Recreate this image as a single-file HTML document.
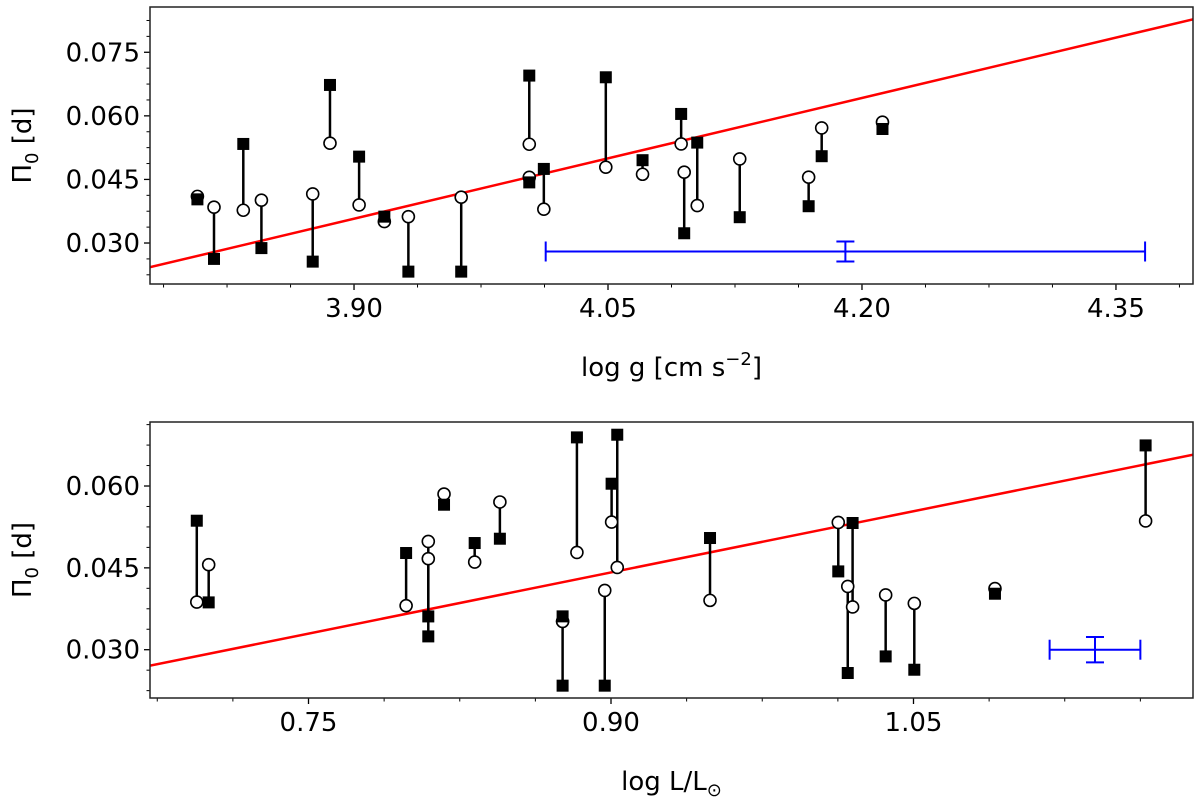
<!DOCTYPE html>
<html><head><meta charset="utf-8"><style>
html,body{margin:0;padding:0;background:#fff;}
svg{display:block;font-family:"DejaVu Sans","Liberation Sans",sans-serif;}
</style></head><body>
<svg id="chart" width="1200" height="802" viewBox="0 0 1200 802"></svg>
<script>
// ---------- top panel data (log g) ----------
const topX      = [3.8075,3.8173,3.8346,3.8453,3.8756,3.8858,3.9030,3.9179,3.9321,3.9633,4.0035,4.0035,4.0121,4.0487,4.0704,4.0932,4.0950,4.1027,4.1278,4.1685,4.1762,4.2121];
const topFilled = [0.0403,0.02625,0.05337,0.0288,0.02561,0.06729,0.05038,0.03622,0.02325,0.02325,0.0695,0.0443,0.04748,0.0691,0.04954,0.06045,0.0323,0.05369,0.03609,0.03868,0.05048,0.0569];
const topOpen   = [0.0410,0.03844,0.03773,0.0401,0.04158,0.05354,0.03899,0.03505,0.03622,0.0408,0.0533,0.0455,0.03797,0.0479,0.04622,0.05338,0.0467,0.03884,0.04984,0.04552,0.05715,0.0585];
const topFit    = [0.02429,0.08278]; // y at x-domain ends
const topErr    = {x:4.1902,y:0.0280,dx:0.177,dy:0.00236};
const topXTicks = [3.90,4.05,4.20,4.35];
const topYTicks = [0.030,0.045,0.060,0.075];
// ---------- bottom panel data (log L) ----------
const botX      = [0.6946,0.7005,0.7984,0.8094,0.8094,0.8172,0.8324,0.8449,0.8760,0.8760,0.8831,0.8969,0.9003,0.9031,0.9491,1.0127,1.0174,1.0198,1.0362,1.0504,1.0904,1.1651];
const botFilled = [0.05364,0.03867,0.04772,0.03244,0.0361,0.05657,0.04955,0.05034,0.03611,0.02341,0.06891,0.02341,0.06042,0.0694,0.05047,0.04435,0.02573,0.05322,0.02877,0.02633,0.04026,0.06744];
const botOpen   = [0.03874,0.04558,0.03807,0.04985,0.04668,0.05853,0.04607,0.05707,0.03519,0.03519,0.04783,0.04087,0.0534,0.04508,0.03904,0.05333,0.0416,0.03783,0.04003,0.03849,0.0412,0.05359];
const botFit    = [0.02707,0.06574];
const botErr    = {x:1.1400,y:0.0300,dx:0.0225,dy:0.00233};
const botXTicks = [0.75,0.90,1.05];
const botYTicks = [0.030,0.045,0.060];

const NS="http://www.w3.org/2000/svg";
const svg=document.getElementById('chart');
function mk(tag,attrs,parent){const e=document.createElementNS(NS,tag);for(const k in attrs)e.setAttribute(k,attrs[k]);(parent||svg).appendChild(e);return e;}

function panel(cfg){
  const {L,R,T,B,x0,x1,y0,y1,xs,fs,os,fit,err,xt,yt,name,xlab}=cfg;
  const X=v=>L+(v-x0)/(x1-x0)*(R-L);
  const Y=v=>B-(v-y0)/(y1-y0)*(B-T);
  const g=mk('g',{});
  
  
  const mx=0.0375, my=0.00375;
  for(let v=Math.ceil((x0-xt[0])/mx)*mx+xt[0]; v<=x1; v+=mx){
    const px=X(v); if(px<L||px>R) continue;
    const major=xt.some(t=>Math.abs(t-v)<1e-6);
    const t=mk('line',{x1:px,x2:px,y1:B,y2:B+(major?6:3.5),stroke:'#000','stroke-width':major?1.3:1},g);
    
    
  }
  for(let v=Math.ceil((y0-yt[0])/my)*my+yt[0]; v<=y1; v+=my){
    const py=Y(v); if(py<T||py>B) continue;
    const major=yt.some(t=>Math.abs(t-v)<1e-6);
    const t=mk('line',{x1:L,x2:L-(major?6:3.5),y1:py,y2:py,stroke:'#000','stroke-width':major?1.3:1},g);
    
    
  }
  xt.forEach(v=>{
    const t=mk('text',{x:X(v),y:B+33,'font-size':26,'text-anchor':'middle',fill:'#000'},g);
    t.textContent=v.toFixed(2);
    
    
  });
  yt.forEach(v=>{
    const t=mk('text',{x:L-10,y:Y(v)+9,'font-size':26,'text-anchor':'end',fill:'#000'},g);
    t.textContent=v.toFixed(3);
    
    
  });
  const cid='clip-'+name;
  const cp=mk('clipPath',{id:cid},g); mk('rect',{x:L,y:T,width:R-L,height:B-T},cp);
  const pg=mk('g',{'clip-path':'url(#'+cid+')'},g);
  const fl=mk('line',{x1:X(x0),y1:Y(fit[0]),x2:X(x1),y2:Y(fit[1]),stroke:'#ff0000','stroke-width':2.5},pg);
  
  
  xs.forEach((x,i)=>{
    const c=mk('line',{x1:X(x),x2:X(x),y1:Y(fs[i]),y2:Y(os[i]),stroke:'#000','stroke-width':2.5},pg);
    
    
  });
  xs.forEach((x,i)=>{
    const o=mk('circle',{cx:X(x),cy:Y(os[i]),r:6,fill:'#fff',stroke:'#000','stroke-width':1.6},pg);
    
    
  });
  xs.forEach((x,i)=>{
    const s=mk('rect',{x:X(x)-6,y:Y(fs[i])-6,width:12,height:12,fill:'#000'},pg);
    
    
  });
  const eb=mk('g',{stroke:'#0000ff','stroke-width':2,fill:'none'},pg);
  
  
  const ex=X(err.x), ey=Y(err.y), exl=X(err.x-err.dx), exr=X(err.x+err.dx), eyt=Y(err.y+err.dy), eyb=Y(err.y-err.dy);
  mk('line',{x1:exl,x2:exr,y1:ey,y2:ey},eb);
  mk('line',{x1:exl,x2:exl,y1:ey-10,y2:ey+10},eb);
  mk('line',{x1:exr,x2:exr,y1:ey-10,y2:ey+10},eb);
  mk('line',{x1:ex,x2:ex,y1:eyt,y2:eyb},eb);
  mk('line',{x1:ex-9,x2:ex+9,y1:eyt,y2:eyt},eb);
  mk('line',{x1:ex-9,x2:ex+9,y1:eyb,y2:eyb},eb);
  const fr=mk('rect',{x:L,y:T,width:R-L,height:B-T,fill:'none',stroke:'#222','stroke-width':1.5},g);
  
  
  const cy=(T+B)/2;
  const yl=mk('text',{x:0,y:0,'font-size':26,'text-anchor':'middle',fill:'#000',transform:`translate(31,${cy}) rotate(-90)`},g);
  yl.innerHTML='Π<tspan font-size="18" dy="7">0</tspan><tspan dy="-7"> [d]</tspan>';
  
  
  const xl=mk('text',{x:(L+R)/2,y:B+92,'font-size':26,'text-anchor':'middle',fill:'#000'},g);
  xl.innerHTML=xlab;
  
  
}

panel({L:150,R:1193,T:7,B:284,x0:3.7795,x1:4.3955,y0:0.02033,y1:0.08568,xs:topX,fs:topFilled,os:topOpen,fit:topFit,err:topErr,xt:topXTicks,yt:topYTicks,name:'top',
  xlab:'log g [cm s<tspan font-size="18" dy="-11">−2</tspan><tspan dy="11">]</tspan>'});
panel({L:150,R:1193,T:422,B:698,x0:0.6714,x1:1.1886,y0:0.02115,y1:0.07173,xs:botX,fs:botFilled,os:botOpen,fit:botFit,err:botErr,xt:botXTicks,yt:botYTicks,name:'bottom',
  xlab:'log L/L<tspan font-size="18" dy="6">⊙</tspan>'});
</script>
</body></html>
